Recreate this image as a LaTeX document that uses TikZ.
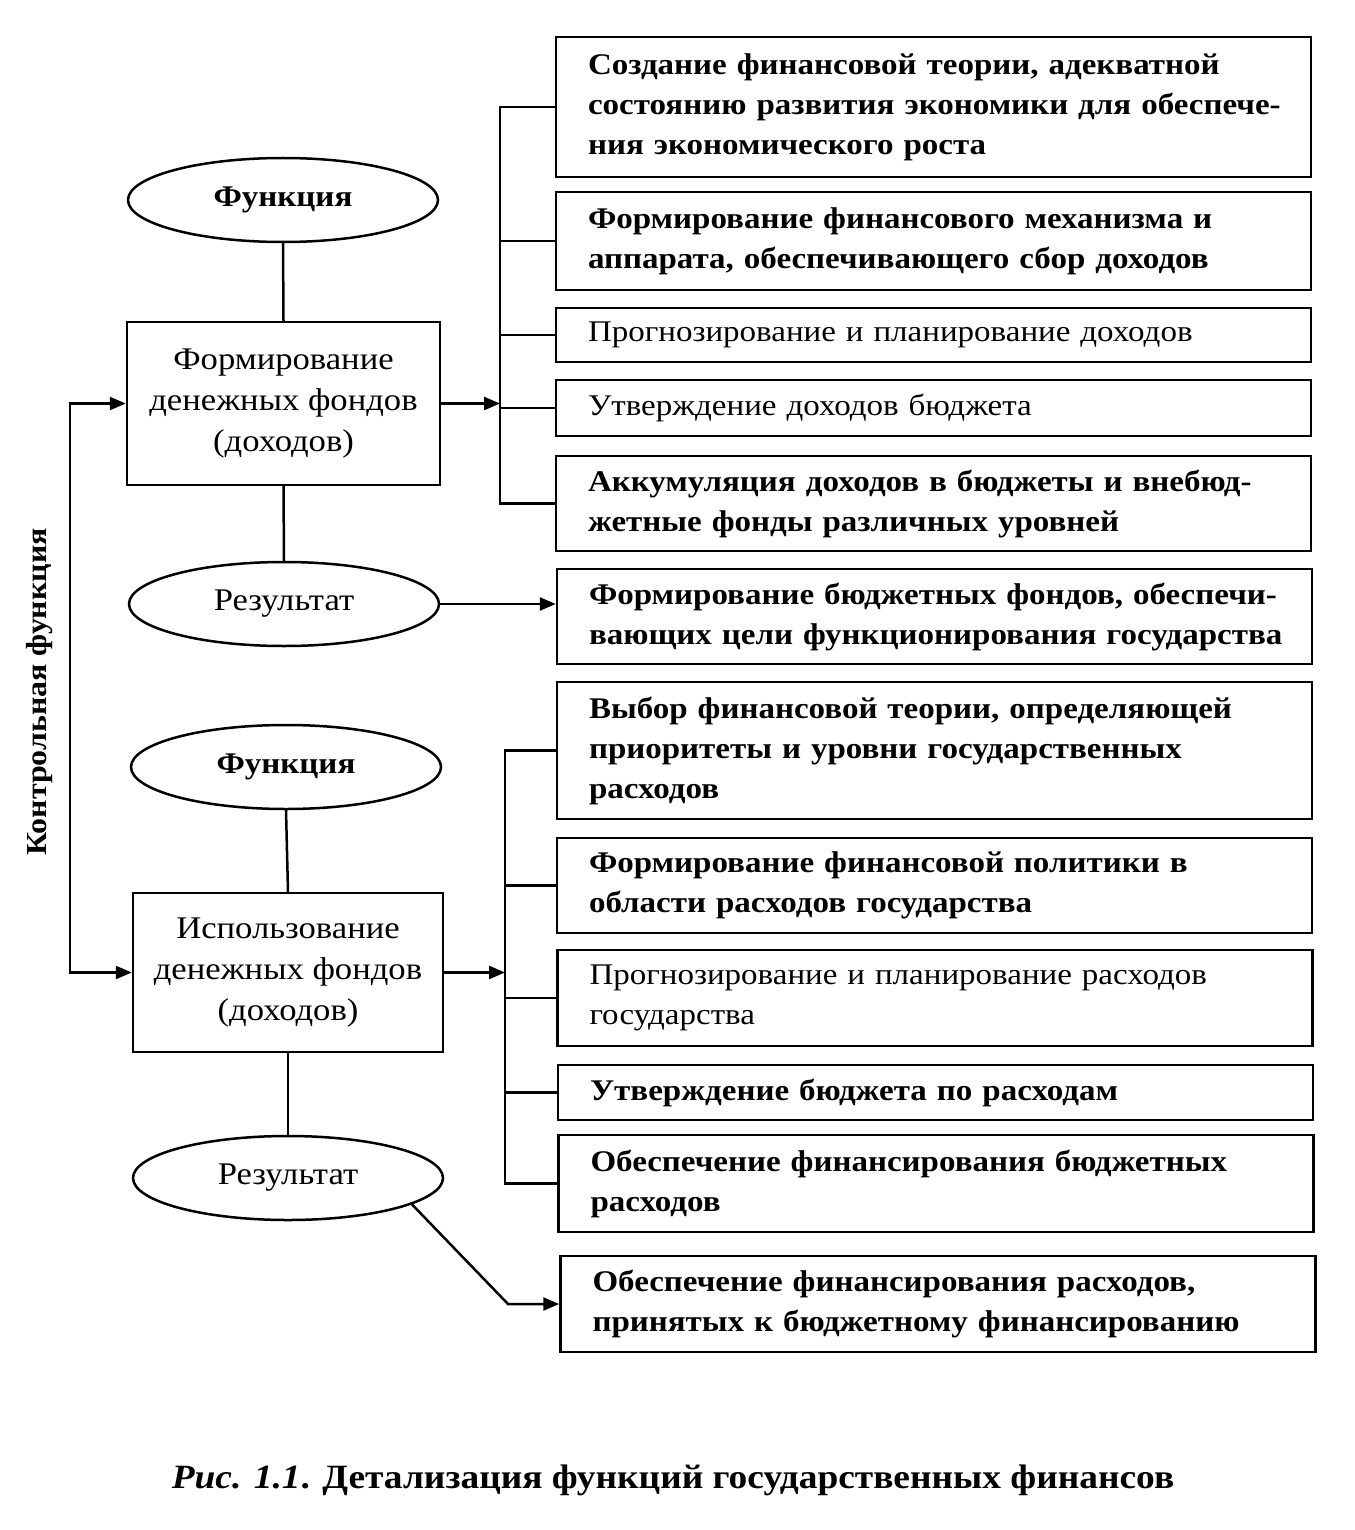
\documentclass[tikz,border=0pt]{standalone}
\usepackage{fontspec}
\setmainfont[FakeStretch=1.1]{Liberation Serif}
\usetikzlibrary{arrows.meta,shapes.geometric}
\newcommand\fsz{\fontsize{30}{40}\selectfont}
\newcommand\fsl{\fontsize{31.5}{41}\selectfont}
\begin{document}
\begin{tikzpicture}[x=1pt,y=-1pt,
  rbox/.style={draw, line width=2.5pt, minimum width=755pt, text width=691pt, inner xsep=32pt, inner ysep=0pt, align=left, font=\fsz},
  rbold/.style={rbox, font=\fsz\bfseries},
  lbox/.style={draw, line width=2.5pt, minimum width=313pt, minimum height=163pt, align=center, font=\fsl},
  oval/.style={draw, ellipse, line width=2.5pt, minimum width=310pt, minimum height=84pt, inner sep=0pt, font=\fsl},
  conn/.style={line width=2.5pt, line cap=rect},
  arr/.style={line width=2.5pt, -{Triangle[length=16pt,width=13pt]}},
  darr/.style={line width=2.5pt, {Triangle[length=16pt,width=13pt]}-{Triangle[length=16pt,width=13pt]}},
]
\useasboundingbox (0,0) rectangle (1354,1530);

% left column, upper
\node[oval, font=\fsz\bfseries] (f1) at (283,200) {Функция};
\node[lbox] (m1) at (283.5,403.5) {Формирование\\ денежных фондов\\ (доходов)};
\node[oval] (r1) at (284,604) {Результат};

% left column, lower
\node[oval, font=\fsz\bfseries] (f2) at (286,767) {Функция};
\node[lbox, minimum height=159pt, minimum width=310pt] (m2) at (288,972.5) {Использование\\ денежных фондов\\ (доходов)};
\node[oval] (r2) at (288,1178) {Результат};

% right boxes, upper
\node[rbold, minimum height=140pt] (b1) at (933.5,107) {\mbox{Создание финансовой теории, адекватной}\\ \mbox{состоянию развития экономики для обеспече-}\\ния экономического роста};
\node[rbold, minimum height=98pt] (b2) at (933.5,241) {\mbox{Формирование финансового механизма и}\\ \mbox{аппарата, обеспечивающего сбор доходов}};
\node[rbox, minimum height=54pt] (b3) at (933.5,335) {\mbox{Прогнозирование и планирование доходов}};
\node[rbox, minimum height=56pt] (b4) at (933.5,408) {Утверждение доходов бюджета};
\node[rbold, minimum height=95pt] (b5) at (933.5,503.5) {\mbox{Аккумуляция доходов в бюджеты и внебюд-}\\жетные фонды различных уровней};
\node[rbold, minimum height=95pt] (b6) at (934.5,616.5) {\mbox{Формирование бюджетных фондов, обеспечи-}\\ \mbox{вающих цели функционирования государства}};

% right boxes, lower
\node[rbold, minimum height=137pt] (b7) at (934.5,750.5) {\mbox{Выбор финансовой теории, определяющей}\\ \mbox{приоритеты и уровни государственных}\\ расходов};
\node[rbold, minimum height=95pt] (b8) at (934.5,885.5) {\mbox{Формирование финансовой политики в}\\ области расходов государства};
\node[rbox, minimum height=96pt] (b9) at (935,998) {\mbox{Прогнозирование и планирование расходов}\\ государства};
\node[rbold, minimum height=55pt] (b10) at (935.5,1092.5) {Утверждение бюджета по расходам};
\node[rbold, minimum height=97pt] (b11) at (936,1183.5) {\mbox{Обеспечение финансирования бюджетных}\\ расходов};
\node[rbold, minimum height=96pt] (b12) at (938,1304) {\mbox{Обеспечение финансирования расходов,}\\ \mbox{принятых к бюджетному финансированию}};

% vertical connectors in left column
\draw[conn] (f1.south) -- (m1.north);
\draw[conn] (m1.south) -- (r1.north);
\draw[conn] (f2.south) -- (m2.north);
\draw[conn] (m2.south) -- (r2.north);

% upper bracket
\coordinate (k1) at (500,405);
\draw[conn] (k1 |- b1.west) -- (k1 |- b5.west);
\foreach \b in {b1,b2,b3,b4,b5} \draw[conn] (k1 |- \b.west) -- (\b.west);
\draw[arr] (m1.east) -- (m1.east -| k1);

% lower bracket
\coordinate (k2) at (505,970);
\draw[conn] (k2 |- b7.west) -- (k2 |- b11.west);
\foreach \b in {b7,b8,b9,b10,b11} \draw[conn] (k2 |- \b.west) -- (\b.west);
\draw[arr] (m2.east) -- (m2.east -| k2);

% results
\draw[arr] (r1.east) -- (r1.east -| b6.west);
\coordinate (bend) at (508,1304);
\draw[arr] (r2.-12) -- (bend) -- (b12.west);

% control loop
\coordinate (cl) at (70,690);
\draw[darr] (m1.west) -- (m1.west -| cl) -- (m2.west -| cl) -- (m2.west);
\node[rotate=90, font=\fontsize{29}{32}\selectfont\bfseries] (ctl) at (40,692) {Контрольная функция};

% caption
\node[font=\fontsize{34}{38}\selectfont\bfseries] (cap) at (673,1480) {\textit{Рис. 1.1}. Детализация функций государственных финансов};
\end{tikzpicture}
\end{document}
